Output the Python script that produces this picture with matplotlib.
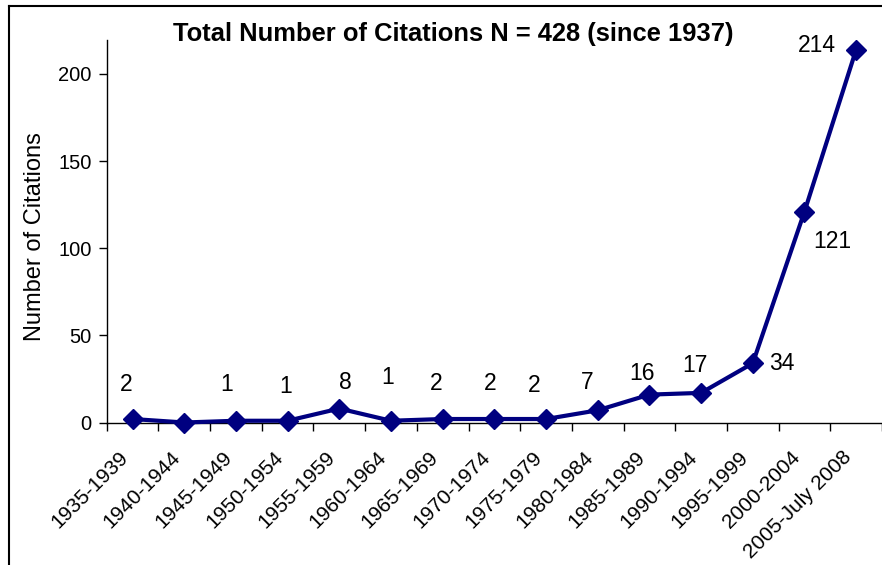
import matplotlib
matplotlib.use("Agg")
import matplotlib.pyplot as plt
from matplotlib.lines import Line2D

plt.rcParams['font.family'] = ['Liberation Sans', 'DejaVu Sans']

categories = ["1935-1939", "1940-1944", "1945-1949", "1950-1954", "1955-1959",
              "1960-1964", "1965-1969", "1970-1974", "1975-1979", "1980-1984",
              "1985-1989", "1990-1994", "1995-1999", "2000-2004", "2005-July 2008"]
citations = [2, 0, 1, 1, 8, 1, 2, 2, 2, 7, 16, 17, 34, 121, 214]
point_labels = ["2", None, "1", "1", "8", "1", "2", "2", "2", "7", "16", "17", "34", "121", "214"]
y_ticks = [0, 50, 100, 150, 200]
title_text = "Total Number of Citations N = 428 (since 1937)"
y_label = "Number of Citations"

# label offsets in pixels (dx, dy; dy positive = up)
label_offsets = [(-6, 35), None, (-9, 36), (-2, 34), (6, 26), (-3, 43), (-6, 36),
                 (-4, 36), (-12, 34), (-11, 28), (-7, 21), (-6, 27), (29, 0),
                 (28, -30), (-39, 4)]

W, H = 882, 565
fig = plt.figure(figsize=(W / 100, H / 100), dpi=100)
fig.patch.set_facecolor('white')

ax = fig.add_axes([106.7 / W, 1 - 422.5 / H, (W - 106.7) / W, (422.5 - 40) / H])

navy = '#000080'
xs = list(range(len(categories)))
ax.plot(xs, citations, color=navy, lw=3.0, marker='D', ms=10,
        markerfacecolor=navy, markeredgecolor=navy, clip_on=False, zorder=3)

for x, v, lab, off in zip(xs, citations, point_labels, label_offsets):
    if lab is None:
        continue
    ax.annotate(lab, (x, v), xytext=off, textcoords='offset pixels',
                ha='center', va='center', fontsize=16.5, color='black')

ax.set_xlim(-0.5, len(categories) - 0.5)
ax.set_ylim(0, 219.5)
ax.set_yticks(y_ticks)
ax.set_yticklabels([str(t) for t in y_ticks], fontsize=14.5)

ax.set_xticks([i - 0.5 for i in range(len(categories) + 1)])
ax.set_xticklabels([])
ax.tick_params(axis='x', direction='out', length=6, width=1)
ax.tick_params(axis='y', direction='out', length=6, width=1, pad=5)

# category labels, rotated like the spreadsheet chart
for x, cat in zip(xs, categories):
    ax.annotate(cat, (x, 0), xycoords=('data', 'axes fraction'),
                xytext=(-14, -25), textcoords='offset pixels',
                ha='right', va='top', rotation=45, rotation_mode='anchor',
                fontsize=15, annotation_clip=False)

for s in ['top', 'right']:
    ax.spines[s].set_visible(False)
for s in ['left', 'bottom']:
    ax.spines[s].set_linewidth(1)
    ax.spines[s].set_color('black')

fig.text(35 / W, 1 - 237 / H, y_label, rotation=90, ha='center', va='center',
         fontsize=17)

fig.text(453.5 / W, 1 - 34 / H, title_text, ha='center', va='center',
         fontsize=18.4, fontweight='bold')

# outer frame
fig.add_artist(Line2D([8.5 / W, 8.5 / W], [0, 1 - 6 / H], color='black', lw=1.5,
                      transform=fig.transFigure))
fig.add_artist(Line2D([8.5 / W, 1], [1 - 6 / H, 1 - 6 / H], color='black', lw=1.5,
                      transform=fig.transFigure))

fig.savefig('out.png', dpi=100, facecolor='white')
